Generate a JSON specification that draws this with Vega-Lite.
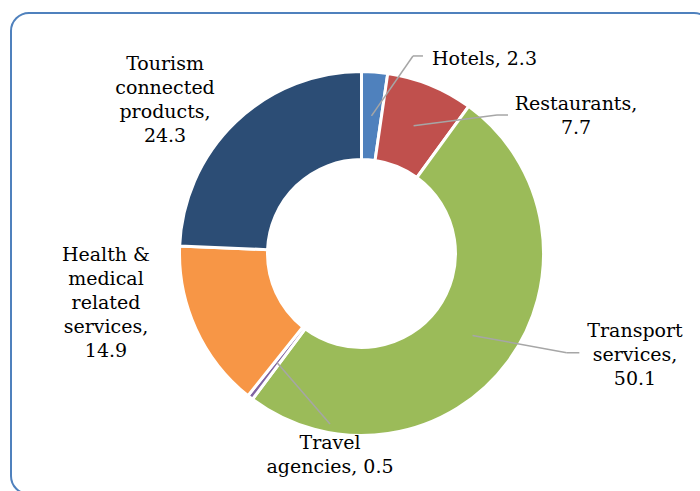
{
  "$schema": "https://vega.github.io/schema/vega-lite/v6.json",
  "width": 701,
  "height": 481,
  "autosize": {"type": "none"},
  "padding": {"left": 11, "top": 13, "right": -12, "bottom": -3},
  "background": "white",
  "config": {
    "view": {"stroke": "#4f81bd", "strokeWidth": 2, "cornerRadius": 18},
    "text": {"font": "DejaVu Serif", "fontSize": 19, "color": "#000000", "lineHeight": 24, "lineBreak": "\n", "baseline": "top"},
    "rule": {"color": "#a6a6a6", "strokeWidth": 1.5}
  },
  "data": {
    "values": [
      {"category": "Hotels", "value": 2.3, "label": "Hotels, 2.3"},
      {"category": "Restaurants", "value": 7.7, "label": "Restaurants,\n7.7"},
      {"category": "Transport services", "value": 50.1, "label": "Transport\nservices,\n50.1"},
      {"category": "Travel agencies", "value": 0.5, "label": "Travel\nagencies, 0.5"},
      {"category": "Health & medical related services", "value": 14.9, "label": "Health &\nmedical\nrelated\nservices,\n14.9"},
      {"category": "Tourism connected products", "value": 24.3, "label": "Tourism\nconnected\nproducts,\n24.3"}
    ]
  },
  "transform": [
    {"window": [{"op": "row_number", "as": "rank"}, {"op": "sum", "field": "value", "as": "cum"}], "frame": [null, 0]},
    {"joinaggregate": [{"op": "sum", "field": "value", "as": "total"}]},
    {"calculate": "2 * PI * (datum.cum - datum.value / 2) / datum.total", "as": "mid"},
    {"calculate": "138 * sin(datum.mid)", "as": "sx"},
    {"calculate": "-138 * cos(datum.mid)", "as": "sy"}
  ],
  "layer": [
    {
      "mark": {"type": "arc", "outerRadius": 182, "innerRadius": 94, "stroke": "white", "strokeWidth": 3},
      "encoding": {
        "theta": {"field": "value", "type": "quantitative", "stack": true},
        "order": {"field": "rank", "type": "quantitative"},
        "color": {
          "field": "category", "type": "nominal", "legend": null,
          "scale": {
            "domain": ["Hotels", "Restaurants", "Transport services", "Travel agencies", "Health & medical related services", "Tourism connected products"],
            "range": ["#4f81bd", "#c0504d", "#9bbb59", "#8064a2", "#f79646", "#2c4d75"]
          }
        }
      }
    },
    {
      "transform": [{"filter": "datum.category === 'Hotels'"}],
      "mark": {"type": "rule", "x2Offset": 41.5, "y2Offset": -59.9},
      "encoding": {
        "x": {"field": "sx", "type": "quantitative", "scale": {"domain": [-350.5, 350.5], "nice": false, "zero": false}, "axis": null},
        "y": {"field": "sy", "type": "quantitative", "scale": {"domain": [-240.5, 240.5], "reverse": true, "nice": false, "zero": false}, "axis": null},
        "x2": {"field": "sx"},
        "y2": {"field": "sy"}
      }
    },
    {
      "transform": [{"filter": "datum.category === 'Hotels'"}],
      "mark": {"type": "rule", "xOffset": 41.5, "yOffset": -59.9, "x2Offset": 51.5, "y2Offset": -59.9},
      "encoding": {
        "x": {"field": "sx", "type": "quantitative", "axis": null},
        "y": {"field": "sy", "type": "quantitative", "axis": null},
        "x2": {"field": "sx"},
        "y2": {"field": "sy"}
      }
    },
    {
      "transform": [{"filter": "datum.category === 'Restaurants'"}],
      "mark": {"type": "rule", "x2Offset": 83.4, "y2Offset": -10.7},
      "encoding": {
        "x": {"field": "sx", "type": "quantitative", "axis": null},
        "y": {"field": "sy", "type": "quantitative", "axis": null},
        "x2": {"field": "sx"},
        "y2": {"field": "sy"}
      }
    },
    {
      "transform": [{"filter": "datum.category === 'Restaurants'"}],
      "mark": {"type": "rule", "xOffset": 83.4, "yOffset": -10.7, "x2Offset": 94.4, "y2Offset": -10.7},
      "encoding": {
        "x": {"field": "sx", "type": "quantitative", "axis": null},
        "y": {"field": "sy", "type": "quantitative", "axis": null},
        "x2": {"field": "sx"},
        "y2": {"field": "sy"}
      }
    },
    {
      "transform": [{"filter": "datum.category === 'Transport services'"}],
      "mark": {"type": "rule", "x2Offset": 94.2, "y2Offset": 17.3},
      "encoding": {
        "x": {"field": "sx", "type": "quantitative", "axis": null},
        "y": {"field": "sy", "type": "quantitative", "axis": null},
        "x2": {"field": "sx"},
        "y2": {"field": "sy"}
      }
    },
    {
      "transform": [{"filter": "datum.category === 'Transport services'"}],
      "mark": {"type": "rule", "xOffset": 94.2, "yOffset": 17.3, "x2Offset": 106.8, "y2Offset": 17.3},
      "encoding": {
        "x": {"field": "sx", "type": "quantitative", "axis": null},
        "y": {"field": "sy", "type": "quantitative", "axis": null},
        "x2": {"field": "sx"},
        "y2": {"field": "sy"}
      }
    },
    {
      "transform": [{"filter": "datum.category === 'Travel agencies'"}],
      "mark": {"type": "rule", "x2Offset": 52.9, "y2Offset": 61.3},
      "encoding": {
        "x": {"field": "sx", "type": "quantitative", "axis": null},
        "y": {"field": "sy", "type": "quantitative", "axis": null},
        "x2": {"field": "sx"},
        "y2": {"field": "sy"}
      }
    },
    {
      "transform": [{"filter": "datum.category === 'Hotels'"}],
      "mark": {"type": "text", "font": "DejaVu Serif", "align": "left", "dx": 60.5, "dy": -65.9},
      "encoding": {
        "x": {"field": "sx", "type": "quantitative", "axis": null},
        "y": {"field": "sy", "type": "quantitative", "axis": null},
        "text": {"field": "label"}
      }
    },
    {
      "transform": [{"filter": "datum.category === 'Restaurants'"}],
      "mark": {"type": "text", "font": "DejaVu Serif", "align": "center", "dx": 162.4, "dy": -30.7},
      "encoding": {
        "x": {"field": "sx", "type": "quantitative", "axis": null},
        "y": {"field": "sy", "type": "quantitative", "axis": null},
        "text": {"field": "label"}
      }
    },
    {
      "transform": [{"filter": "datum.category === 'Transport services'"}],
      "mark": {"type": "text", "font": "DejaVu Serif", "align": "center", "dx": 162.5, "dy": -13.7},
      "encoding": {
        "x": {"field": "sx", "type": "quantitative", "axis": null},
        "y": {"field": "sy", "type": "quantitative", "axis": null},
        "text": {"field": "label"}
      }
    },
    {
      "transform": [{"filter": "datum.category === 'Travel agencies'"}],
      "mark": {"type": "text", "font": "DejaVu Serif", "align": "center", "dx": 52.9, "dy": 71.3},
      "encoding": {
        "x": {"field": "sx", "type": "quantitative", "axis": null},
        "y": {"field": "sy", "type": "quantitative", "axis": null},
        "text": {"field": "label"}
      }
    },
    {
      "transform": [{"filter": "datum.category === 'Health & medical related services'"}],
      "mark": {"type": "text", "font": "DejaVu Serif", "align": "center", "dx": -130, "dy": -64.8},
      "encoding": {
        "x": {"field": "sx", "type": "quantitative", "axis": null},
        "y": {"field": "sy", "type": "quantitative", "axis": null},
        "text": {"field": "label"}
      }
    },
    {
      "transform": [{"filter": "datum.category === 'Tourism connected products'"}],
      "mark": {"type": "text", "font": "DejaVu Serif", "align": "center", "dx": -100.9, "dy": -98.9},
      "encoding": {
        "x": {"field": "sx", "type": "quantitative", "axis": null},
        "y": {"field": "sy", "type": "quantitative", "axis": null},
        "text": {"field": "label"}
      }
    }
  ]
}
